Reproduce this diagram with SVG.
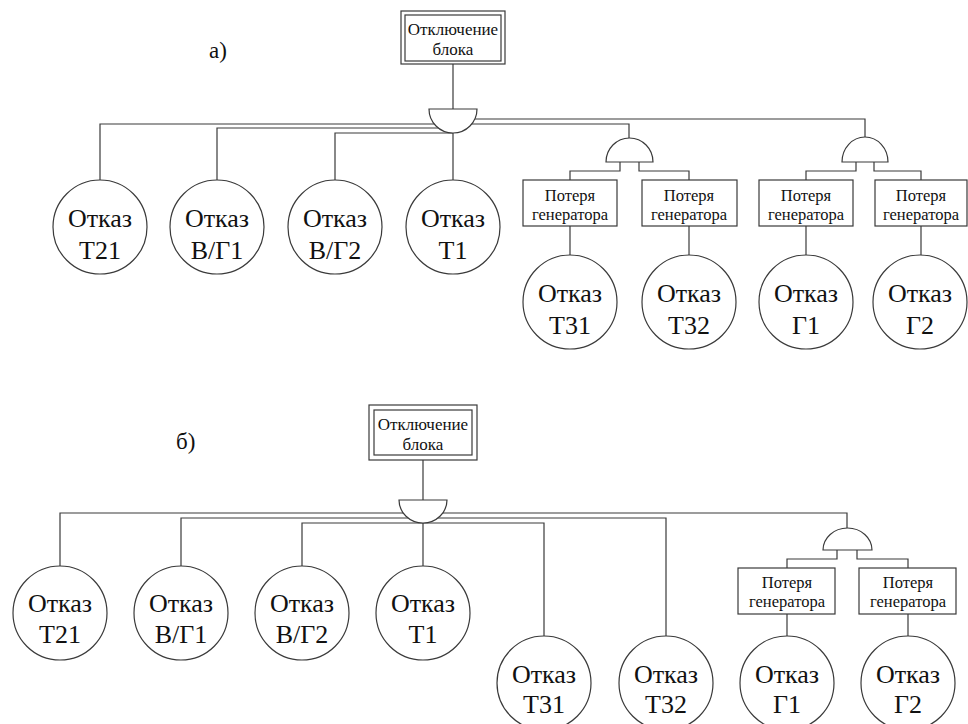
<svg xmlns="http://www.w3.org/2000/svg" width="968" height="724" viewBox="0 0 968 724" font-family="'Liberation Serif', 'Times New Roman', serif">
<style>
  .ln{fill:none;stroke:#3a3a3a;stroke-width:1.2}
  .gate{fill:#fff;stroke:#3a3a3a;stroke-width:1.2}
  .ev{fill:#fff;stroke:#3a3a3a;stroke-width:1.2}
  .bx{fill:#fff;stroke:#3a3a3a;stroke-width:1.2}
  text{fill:#111}
  .t{text-anchor:middle}
  .big{font-size:26px}
  .sm{font-size:16.5px}
  .top{font-size:17px}
  .lbl{font-size:23px}
</style>
<rect width="968" height="724" fill="#fff"/>

<!-- ===== Part a ===== -->
<text class="lbl" x="209" y="58">а)</text>
<g id="connectors-a">
  <path class="ln" d="M453,64 V109"/>
  <path class="ln" d="M100,180 V124 H629 V138"/>
  <path class="ln" d="M217,180 V128 H440"/>
  <path class="ln" d="M335,180 V133 H453"/>
  <path class="ln" d="M453,133 V180"/>
  <path class="ln" d="M470,119 H865 V137"/>
  <path class="ln" d="M620,162 V171 H570 V180"/>
  <path class="ln" d="M639,162 V171 H689 V180"/>
  <path class="ln" d="M856,162 V171 H806 V180"/>
  <path class="ln" d="M874,162 V171 H921 V180"/>
  <path class="ln" d="M570,226 V255"/>
  <path class="ln" d="M689,226 V255"/>
  <path class="ln" d="M806,226 V255"/>
  <path class="ln" d="M921,226 V255"/>
</g>
<g id="a-top">
  <rect class="bx" x="401" y="11" width="104" height="53"/>
  <rect class="bx" x="405" y="15" width="96" height="46"/>
  <text class="t top" x="453" y="35">Отключение</text>
  <text class="t top" x="453" y="55">блока</text>
</g>
<g id="a-gate-main"><path class="gate" d="M429,109 A24,24 0 0 0 477,109 Z"/></g>
<g id="a-gate-t3"><path class="gate" d="M606,162 A23.5,24 0 0 1 653,162 Z"/></g>
<g id="a-gate-g"><path class="gate" d="M842,162 A23,25 0 0 1 888,162 Z"/></g>
<g id="a-t21"><circle class="ev" cx="100" cy="227" r="47"/><text class="t big" x="100" y="227">Отказ</text><text class="t big" x="100" y="259">Т21</text></g>
<g id="a-vg1"><circle class="ev" cx="217" cy="227" r="47"/><text class="t big" x="217" y="227">Отказ</text><text class="t big" x="217" y="259">В/Г1</text></g>
<g id="a-vg2"><circle class="ev" cx="335" cy="227" r="47"/><text class="t big" x="335" y="227">Отказ</text><text class="t big" x="335" y="259">В/Г2</text></g>
<g id="a-t1"><circle class="ev" cx="453" cy="227" r="47"/><text class="t big" x="453" y="227">Отказ</text><text class="t big" x="453" y="259">Т1</text></g>
<g id="a-box-t31"><rect class="bx" x="523" y="180" width="94" height="46"/><text class="t sm" x="570" y="201">Потеря</text><text class="t sm" x="570" y="220">генератора</text></g>
<g id="a-box-t32"><rect class="bx" x="642" y="180" width="95" height="46"/><text class="t sm" x="689" y="201">Потеря</text><text class="t sm" x="689" y="220">генератора</text></g>
<g id="a-box-g1"><rect class="bx" x="759" y="180" width="94" height="46"/><text class="t sm" x="806" y="201">Потеря</text><text class="t sm" x="806" y="220">генератора</text></g>
<g id="a-box-g2"><rect class="bx" x="875" y="180" width="92" height="46"/><text class="t sm" x="921" y="201">Потеря</text><text class="t sm" x="921" y="220">генератора</text></g>
<g id="a-t31"><circle class="ev" cx="570" cy="302" r="47"/><text class="t big" x="570" y="302">Отказ</text><text class="t big" x="570" y="334">Т31</text></g>
<g id="a-t32"><circle class="ev" cx="689" cy="302" r="47"/><text class="t big" x="689" y="302">Отказ</text><text class="t big" x="689" y="334">Т32</text></g>
<g id="a-g1"><circle class="ev" cx="806" cy="302" r="47"/><text class="t big" x="806" y="302">Отказ</text><text class="t big" x="806" y="334">Г1</text></g>
<g id="a-g2"><circle class="ev" cx="920" cy="302" r="47"/><text class="t big" x="920" y="302">Отказ</text><text class="t big" x="920" y="334">Г2</text></g>

<!-- ===== Part b ===== -->
<text class="lbl" x="176" y="449">б)</text>
<g id="connectors-b">
  <path class="ln" d="M423,460 V500"/>
  <path class="ln" d="M60,567 V513 H847 V528"/>
  <path class="ln" d="M181,567 V518 H666 V636"/>
  <path class="ln" d="M302,567 V523 H544 V636"/>
  <path class="ln" d="M423,523 V567"/>
  <path class="ln" d="M837,550 V559 H787 V568"/>
  <path class="ln" d="M857,550 V559 H908 V568"/>
  <path class="ln" d="M787,614 V636"/>
  <path class="ln" d="M908,614 V636"/>
</g>
<g id="b-top">
  <rect class="bx" x="369" y="405" width="108" height="55"/>
  <rect class="bx" x="374" y="410" width="98" height="45"/>
  <text class="t top" x="423" y="430">Отключение</text>
  <text class="t top" x="423" y="450">блока</text>
</g>
<g id="b-gate-main"><path class="gate" d="M399,500 A24,23 0 0 0 447,500 Z"/></g>
<g id="b-gate-g"><path class="gate" d="M823,550 A24.5,22 0 0 1 872,550 Z"/></g>
<g id="b-t21"><circle class="ev" cx="60" cy="613" r="47"/><text class="t big" x="60" y="612">Отказ</text><text class="t big" x="60" y="643">Т21</text></g>
<g id="b-vg1"><circle class="ev" cx="181" cy="613" r="47"/><text class="t big" x="181" y="612">Отказ</text><text class="t big" x="181" y="643">В/Г1</text></g>
<g id="b-vg2"><circle class="ev" cx="302" cy="613" r="47"/><text class="t big" x="302" y="612">Отказ</text><text class="t big" x="302" y="643">В/Г2</text></g>
<g id="b-t1"><circle class="ev" cx="423" cy="613" r="47"/><text class="t big" x="423" y="612">Отказ</text><text class="t big" x="423" y="643">Т1</text></g>
<g id="b-box-g1"><rect class="bx" x="738" y="568" width="97" height="46"/><text class="t sm" x="787" y="588">Потеря</text><text class="t sm" x="787" y="607">генератора</text></g>
<g id="b-box-g2"><rect class="bx" x="859" y="568" width="97" height="46"/><text class="t sm" x="908" y="588">Потеря</text><text class="t sm" x="908" y="607">генератора</text></g>
<g id="b-t31"><circle class="ev" cx="544" cy="683" r="47"/><text class="t big" x="544" y="683">Отказ</text><text class="t big" x="544" y="713">Т31</text></g>
<g id="b-t32"><circle class="ev" cx="666" cy="683" r="47"/><text class="t big" x="666" y="683">Отказ</text><text class="t big" x="666" y="713">Т32</text></g>
<g id="b-g1"><circle class="ev" cx="787" cy="683" r="47"/><text class="t big" x="787" y="683">Отказ</text><text class="t big" x="787" y="713">Г1</text></g>
<g id="b-g2"><circle class="ev" cx="908" cy="683" r="47"/><text class="t big" x="908" y="683">Отказ</text><text class="t big" x="908" y="713">Г2</text></g>
</svg>
